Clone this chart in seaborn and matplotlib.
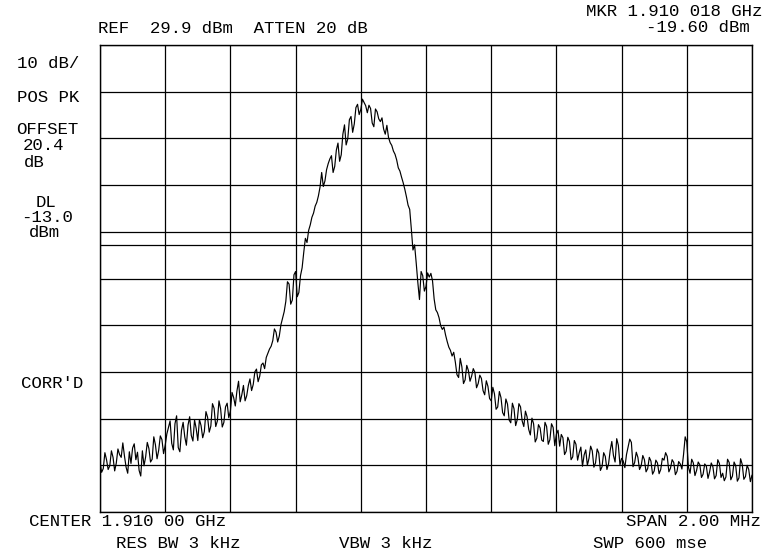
import numpy as np
import pandas as pd
import matplotlib
matplotlib.use("Agg")
import matplotlib.pyplot as plt
import seaborn as sns

# ---- data ----
center_mhz = 1910.0
span_mhz = 2.0
ref_level = 29.9          # dBm at top of screen
db_per_div = 10
display_line = -13.0      # dBm

trace_left = [
    -59.5, -61.6, -60.8, -57.4, -58.9, -61.0, -60.2, -57.0, -58.4, -61.3,
    -59.6, -56.6, -57.8, -58.4, -55.3, -58.1, -60.5, -61.8, -57.2, -59.7,
    -56.4, -55.5, -58.9, -57.3, -61.2, -62.4, -57.0, -60.2, -58.3, -55.2,
    -56.5, -59.4, -58.8, -54.0, -55.7, -58.7, -56.9, -53.8, -54.6, -57.6,
    -55.8, -53.4, -52.0, -50.6, -55.4, -56.8, -51.2, -49.5, -56.3, -57.2,
    -52.6, -50.9, -54.0, -55.8, -51.5, -49.7, -53.7, -54.9, -50.4, -52.2,
    -54.8, -50.3, -51.6, -54.2, -52.9, -48.6, -49.8, -53.0, -51.7, -46.9,
    -47.9, -51.8, -50.6, -46.3, -48.0, -51.9, -50.9, -47.6, -46.8, -49.9,
    -48.5,
]
trace_rise = [
    -44.5, -45.6, -47.4, -44.2, -42.1, -46.5, -45.0, -43.0, -46.3, -45.2,
    -43.0, -41.6, -44.1, -42.8, -40.1, -39.5, -42.2, -41.0, -38.6, -38.2,
    -39.4, -37.0, -36.1, -35.2, -34.6, -33.4, -30.9, -31.6, -33.7, -32.4,
    -30.0, -28.6, -27.2, -25.0, -20.8, -21.3, -25.6, -24.7, -19.3, -18.6,
    -24.0, -23.1, -19.5, -17.8, -14.5, -11.5, -12.4, -9.8, -8.6, -7.0,
    -6.1, -4.6, -3.8, -2.4, -0.5, 2.6, -0.4, 0.8, 3.2, 4.5,
    5.5, 6.2, 2.6, 3.9, 7.4, 8.9, 5.0, 6.4, 10.8, 12.8,
    8.5, 9.8, 13.9, 14.6, 11.2, 13.0, 16.5, 17.2, 15.0, 16.1,
]
trace_fall = [
    18.3, 17.6, 16.9, 15.4, 17.0, 16.3, 13.2, 12.4, 16.2, 15.6,
    14.1, 13.5, 14.3, 11.9, 10.8, 12.7, 10.1, 9.0, 8.4, 7.2,
    6.5, 5.3, 3.6, 2.9, 1.6, 0.4, -1.0, -2.6, -4.4, -5.3,
    -9.5, -14.0, -12.9, -16.8, -21.0, -24.6, -18.6, -19.5, -22.8, -21.8,
    -18.9, -19.8, -19.0, -20.6, -24.5, -26.8, -27.4, -28.5, -30.2, -31.0,
    -30.5, -32.2, -33.6, -34.8, -35.5, -36.7, -35.9, -38.0, -40.7, -41.3,
    -37.2, -39.0, -42.6, -41.8, -38.7, -39.8, -42.1, -41.0, -39.4, -40.2,
    -43.5, -42.6, -40.8, -41.5, -44.1, -45.0, -42.0, -43.2, -45.8, -46.3,
]
trace_skirt = [
    -43.4, -44.8, -48.1, -47.6, -44.3, -45.6, -48.8, -49.5, -45.9, -47.0,
    -50.4, -51.0, -46.8, -48.0, -51.6, -50.3, -46.9, -47.6, -50.6, -51.8,
    -48.5, -49.7, -52.4, -53.6, -50.0, -51.2, -55.1, -54.3, -51.4, -52.1,
    -54.7, -55.0, -50.9, -51.8, -55.6, -54.6, -51.2, -52.0, -55.9, -53.4,
    -52.6, -56.0, -53.5, -54.2, -57.8, -57.1, -54.1, -55.0, -58.9, -58.3,
    -54.8, -55.6, -59.0, -57.4, -56.2, -60.3, -57.9, -56.8, -60.1, -58.6,
    -56.0, -57.0, -60.5, -59.6, -56.6, -57.5, -61.2, -60.4, -57.4, -58.2,
    -61.0, -59.8,
]
trace_right = [
    -56.9, -55.0, -58.0, -59.4, -54.4, -55.8, -60.0, -58.6, -59.2, -60.6,
    -57.8, -56.2, -54.5, -55.2, -60.4, -59.5, -57.3, -58.4, -61.0, -60.2,
    -58.0, -58.9, -61.5, -60.8, -58.4, -59.2, -62.0, -61.3, -59.0, -59.6,
    -61.9, -61.0, -58.6, -59.0, -57.4, -58.2, -61.5, -60.7, -58.9, -59.5,
    -62.1, -61.4, -59.3, -59.8, -60.9, -57.8, -54.0, -55.1, -60.5, -61.8,
    -58.8, -59.6, -62.3, -61.2, -59.4, -60.0, -62.7, -62.0, -59.8, -60.3,
    -62.9, -61.5, -59.6, -60.4, -63.0, -62.3, -58.9, -59.7, -62.7, -61.8,
    -63.4, -62.6, -58.8, -59.5, -63.2, -62.4, -59.4, -60.2, -63.5, -62.8,
    -58.7, -59.9, -63.1, -62.5, -60.1, -61.0, -63.6, -62.2,
]

top_labels_left = "REF  29.9 dBm  ATTEN 20 dB"
marker_freq = "MKR 1.910 018 GHz"
marker_level = "-19.60 dBm"
side_labels = ["10 dB/", "POS PK", "OFFSET", "20.4", "dB", "DL", "-13.0", "dBm", "CORR'D"]
bottom_line1 = ["CENTER 1.910 00 GHz", "SPAN 2.00 MHz"]
bottom_line2 = ["RES BW 3 kHz", "VBW 3 kHz", "SWP 600 mse"]

# ---- build frame ----
trace_dbm = trace_left + trace_rise + trace_fall + trace_skirt + trace_right
n = len(trace_dbm)
start = center_mhz - span_mhz / 2
freqs = [start + span_mhz * i / (n - 1) for i in range(n)]
df = pd.DataFrame({"freq": freqs, "level": trace_dbm})

sns.set_style("white")
plt.rcParams["font.family"] = ["Liberation Mono", "DejaVu Sans Mono"]

W, H = 765, 548
fig = plt.figure(figsize=(W / 100, H / 100), dpi=100)
ax = fig.add_axes([100 / W, 1 - 512 / H, 652 / W, 467 / H])

sns.lineplot(data=df, x="freq", y="level", ax=ax, color="black", linewidth=0.85)

bottom = ref_level - 10 * db_per_div
ax.set_xlim(start, start + span_mhz)
ax.set_ylim(bottom, ref_level)
ax.set_xticks([start + span_mhz * k / 10 for k in range(11)])
ax.set_yticks([bottom + db_per_div * k for k in range(11)])
ax.tick_params(length=0, labelbottom=False, labelleft=False)
ax.set_xlabel("")
ax.set_ylabel("")
ax.grid(True, color="black", linewidth=0.9)
ax.axhline(display_line, color="black", linewidth=0.9)
for s in ax.spines.values():
    s.set_color("black")
    s.set_linewidth(1.0)

fs = 12.5


def put(x, y, s, ha="left"):
    fig.text(x / W, 1 - y / H, s, ha=ha, va="baseline", fontsize=fs, color="black")


put(233, 33, top_labels_left, ha="center")
put(762, 16, marker_freq, ha="right")
put(750, 32, marker_level, ha="right")

side_pos = [(48, 68), (48, 102), (47, 134), (44, 150), (34, 167),
            (46, 207), (47, 222), (44, 237), (52, 388)]
for (x, y), s in zip(side_pos, side_labels):
    put(x, y, s, ha="center")

put(128, 526, bottom_line1[0], ha="center")
put(761, 526, bottom_line1[1], ha="right")
put(178, 548, bottom_line2[0], ha="center")
put(386, 548, bottom_line2[1], ha="center")
put(650, 548, bottom_line2[2], ha="center")

fig.savefig("out.png", dpi=100, facecolor="white")
